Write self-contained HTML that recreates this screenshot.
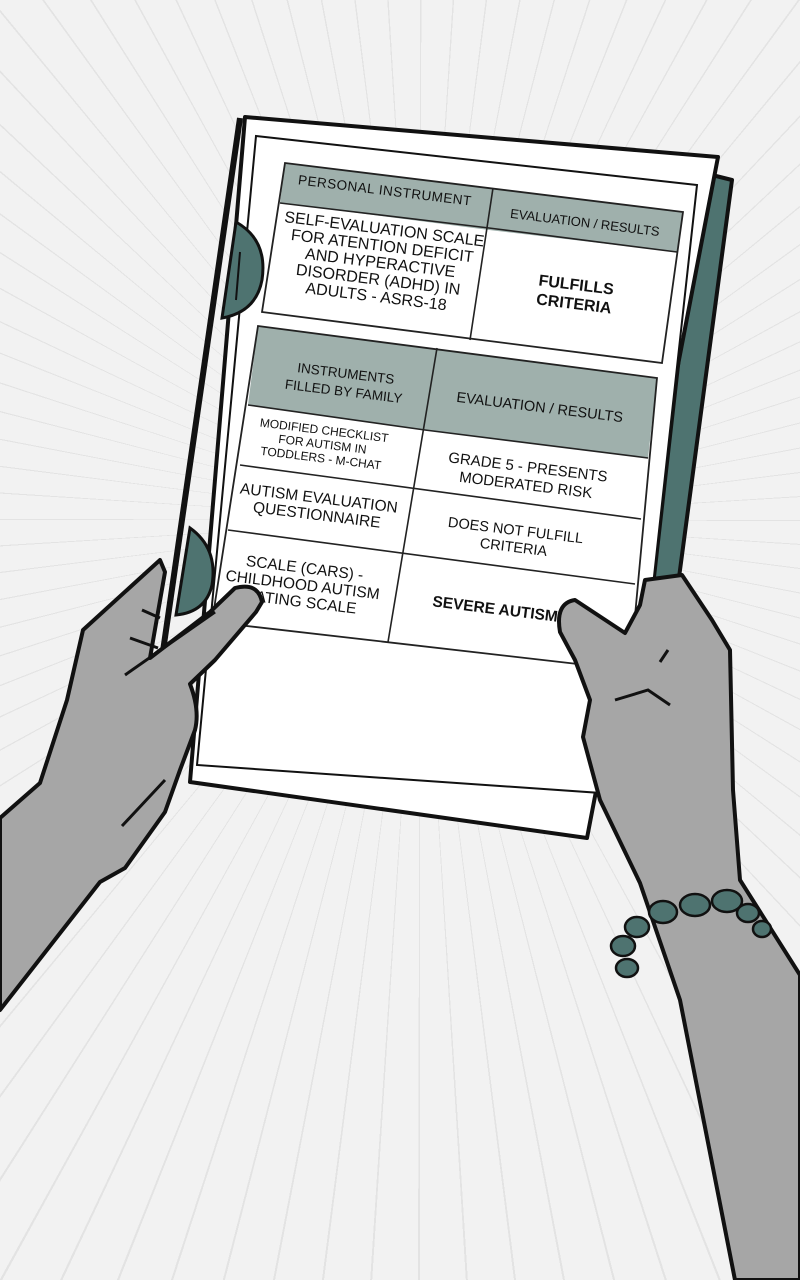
<!DOCTYPE html>
<html><head><meta charset="utf-8"><style>
html,body{margin:0;padding:0;width:800px;height:1280px;overflow:hidden;background:#f2f2f2}
#bg{position:absolute;left:0;top:0;width:800px;height:1280px;background:repeating-conic-gradient(from 0deg at 420px 520px,#e3e3e3 0deg 0.15deg,#f2f2f2 0.15deg 3.6deg)}
svg{display:block;position:absolute;left:0;top:0}
text{font-family:"Liberation Sans","DejaVu Sans",sans-serif;fill:#111;text-anchor:middle}
</style></head><body>
<div id="bg"></div>
<svg width="800" height="1280" viewBox="0 0 800 1280" xmlns="http://www.w3.org/2000/svg">
<polygon points="700,172 732,180 662,705 640,700" fill="#4e7370" stroke="#111" stroke-width="4" stroke-linejoin="round"/>
<polyline points="240,118 160,672" fill="none" stroke="#111" stroke-width="6"/>
<polygon points="245,117 718,157 587,838 190,782" fill="#fff" stroke="#111" stroke-width="4" stroke-linejoin="round"/>
<polygon points="256,136 697,185 630,795 197,765" fill="#fff" stroke="#111" stroke-width="2"/>
<path d="M236,222 Q268,240 262,280 Q256,312 222,318 Z" fill="#4e7370" stroke="#111" stroke-width="3"/>
<line x1="240" y1="252" x2="236" y2="300" stroke="#111" stroke-width="2"/>
<path d="M190,528 Q218,548 212,585 Q206,612 176,615 Z" fill="#4e7370" stroke="#111" stroke-width="3"/>
<polygon points="285,163 683,212 677,252 489,230 280,203" fill="#9fb0ac"/>
<polygon points="285,163 683,212 662,363 262,312" fill="none" stroke="#222" stroke-width="1.8"/>
<polyline points="280,203 489,228 677,252" fill="none" stroke="#222" stroke-width="1.6"/>
<line x1="493" y1="188" x2="470" y2="340" stroke="#222" stroke-width="1.6"/>
<polygon points="258,326 657,378 648,458 425,430 248,405" fill="#9fb0ac"/>
<polygon points="258,326 657,378 630,670 212,622" fill="none" stroke="#222" stroke-width="1.8"/>
<polyline points="248,405 425,430 648,458" fill="none" stroke="#222" stroke-width="1.6"/>
<line x1="240" y1="465" x2="641" y2="519" stroke="#222" stroke-width="1.6"/>
<line x1="228" y1="530" x2="635" y2="584" stroke="#222" stroke-width="1.6"/>
<line x1="437" y1="348" x2="388" y2="642" stroke="#222" stroke-width="1.6"/>
<g transform="rotate(7 385 190)"><text x="385" y="195" font-size="13.5" letter-spacing="0.5">PERSONAL INSTRUMENT</text></g>
<g transform="rotate(7 585 222)"><text x="585" y="227" font-size="13">EVALUATION / RESULTS</text></g>
<g transform="rotate(7 380 265)" font-size="16">
<text x="380" y="234">SELF-EVALUATION SCALE</text>
<text x="380" y="251">FOR ATENTION DEFICIT</text>
<text x="380" y="268">AND HYPERACTIVE</text>
<text x="380" y="285">DISORDER (ADHD) IN</text>
<text x="380" y="302">ADULTS - ASRS-18</text>
</g>
<g transform="rotate(7 575 295)" font-size="16" font-weight="bold">
<text x="575" y="290">FULFILLS</text><text x="575" y="309">CRITERIA</text>
</g>
<g transform="rotate(7 345 380)" font-size="13.5">
<text x="345" y="378">INSTRUMENTS</text><text x="345" y="396">FILLED BY FAMILY</text>
</g>
<g transform="rotate(7 540 405)"><text x="540" y="412" font-size="14.5">EVALUATION / RESULTS</text></g>
<g transform="rotate(7 320 448)" font-size="12">
<text x="322" y="434">MODIFIED CHECKLIST</text><text x="322" y="448">FOR AUTISM IN</text><text x="322" y="462">TODDLERS - M-CHAT</text>
</g>
<g transform="rotate(7 527 475)" font-size="15">
<text x="527" y="472">GRADE 5 - PRESENTS</text><text x="527" y="490">MODERATED RISK</text>
</g>
<g transform="rotate(7 318 505)" font-size="15.5">
<text x="318" y="503">AUTISM EVALUATION</text><text x="318" y="520">QUESTIONNAIRE</text>
</g>
<g transform="rotate(7 515 535)" font-size="14.5">
<text x="515" y="535">DOES NOT FULFILL</text><text x="515" y="552">CRITERIA</text>
</g>
<g transform="rotate(7 303 582)" font-size="15.5">
<text x="303" y="573">SCALE (CARS) -</text><text x="303" y="590">CHILDHOOD AUTISM</text><text x="303" y="607">RATING SCALE</text>
</g>
<g transform="rotate(7 495 610)"><text x="495" y="614" font-size="15.5" font-weight="bold">SEVERE AUTISM</text></g>
<path d="M0,818 L40,783 L67,700 L83,630 L160,560 L165,572 L150,658 L210,612 L235,588 Q258,582 262,602 L256,612 L215,660 L190,684 Q200,710 195,730 L180,770 L165,812 L125,868 L100,882 L0,1010 Z" fill="#a6a6a6" stroke="#111" stroke-width="4" stroke-linejoin="round"/>
<path d="M125,675 L215,612" stroke="#111" stroke-width="3" fill="none"/>
<path d="M130,638 L158,648 M142,610 L160,618 M122,826 L165,780" stroke="#111" stroke-width="3" fill="none"/>
<path d="M640,605 L645,580 L682,575 L712,620 L730,650 L733,790 L740,880 L800,975 L800,1280 L735,1280 L680,1000 L640,883 L600,800 L583,737 L590,700 L575,660 L560,632 Q555,603 575,600 L625,633 Z" fill="#a6a6a6" stroke="#111" stroke-width="4" stroke-linejoin="round"/>
<path d="M615,700 L648,690 L670,705 M660,662 L668,650" stroke="#111" stroke-width="3" fill="none"/>
<g fill="#4e7370" stroke="#111" stroke-width="2.5">
<ellipse cx="627" cy="968" rx="11" ry="9"/>
<ellipse cx="623" cy="946" rx="12" ry="10"/>
<ellipse cx="637" cy="927" rx="12" ry="10"/>
<ellipse cx="663" cy="912" rx="14" ry="11"/>
<ellipse cx="695" cy="905" rx="15" ry="11"/>
<ellipse cx="727" cy="901" rx="15" ry="11"/>
<ellipse cx="748" cy="913" rx="11" ry="9"/>
<ellipse cx="762" cy="929" rx="9" ry="8"/>
</g>
</svg>
</body></html>
